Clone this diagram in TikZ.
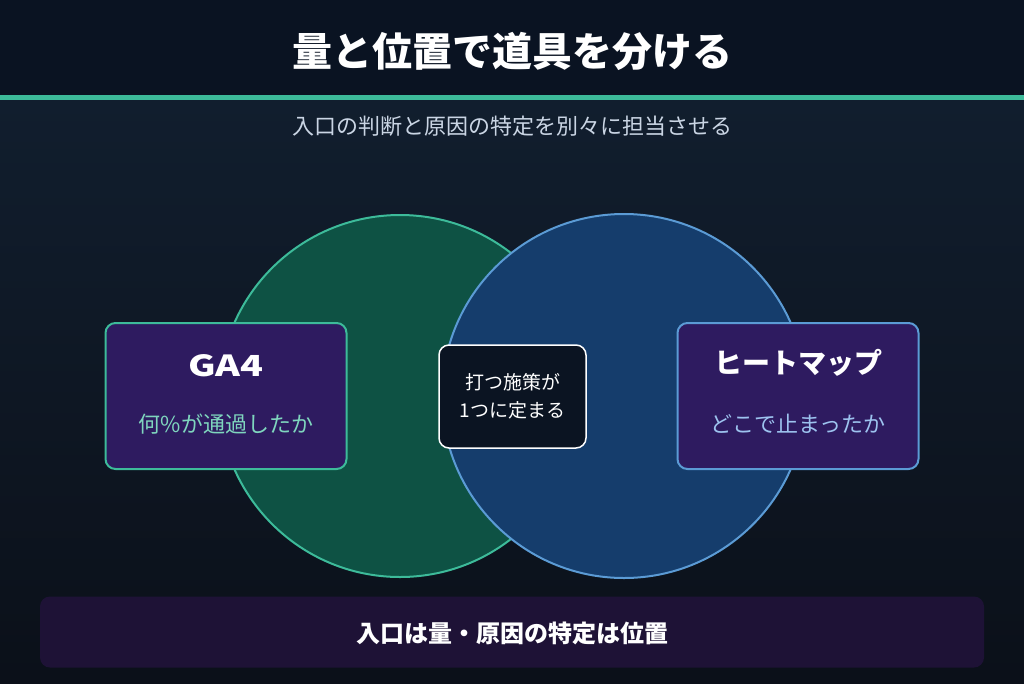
\documentclass[tikz,border=0pt]{standalone}
\usepackage{fontspec}
\setmainfont{Noto Sans CJK JP}
\newfontfamily\jp{Noto Sans CJK JP}
\definecolor{bgtop}{HTML}{0A1322}
\definecolor{bgmid}{HTML}{111E2E}
\definecolor{bgbot}{HTML}{0B1019}
\definecolor{accent}{HTML}{3DBB9A}
\definecolor{gfill}{HTML}{0E5244}
\definecolor{gline}{HTML}{3DBB9A}
\definecolor{bfill}{HTML}{153D6C}
\definecolor{bline}{HTML}{5B9BD5}
\definecolor{boxfill}{HTML}{2E1B60}
\definecolor{cfill}{HTML}{0B1422}
\definecolor{barfill}{HTML}{1E1236}
\definecolor{subtxt}{HTML}{CAD5E4}
\definecolor{gtxt}{HTML}{7FD6BE}
\definecolor{btxt}{HTML}{9DC3EF}
\tikzset{
  sidebox/.style={draw, line width=2pt, rounded corners=10pt, fill=boxfill, minimum width=241pt, minimum height=146pt},
  centerbox/.style={draw=white, line width=1.5pt, rounded corners=10pt, fill=cfill, minimum width=147pt, minimum height=103pt, align=center, text=white, font=\jp\fontsize{19}{28}\selectfont},
  headtxt/.style={text=white, font=\jp\bfseries\fontsize{28}{32}\selectfont},
  subtxtstyle/.style={font=\jp\fontsize{22}{26}\selectfont}
}
\begin{document}
\begin{tikzpicture}[x=1pt,y=-1pt]
\useasboundingbox (0,0) rectangle (1024,683);
\shade[top color=bgmid, bottom color=bgbot] (0,100) rectangle (1024,683);
\fill[bgtop] (0,0) rectangle (1024,96);
\fill[accent] (0,95) rectangle (1024,100);
\node[text=white, font=\jp\bfseries\fontsize{40}{44}\selectfont] (title) at (512,51) {量と位置で道具を分ける};
\node[text=subtxt, font=\jp\fontsize{22}{26}\selectfont] (sub) at (512,126) {入口の判断と原因の特定を別々に担当させる};
\draw[gline, fill=gfill, line width=2pt] (400,396) circle (181);
\draw[bline, fill=bfill, line width=2pt] (624,396) circle (182);
\node[sidebox, draw=gline] (ga) at (226,396) {};
\node[headtxt, font=\jp\bfseries\fontsize{29}{32}\selectfont, xscale=1.3] (gah) at (226,366) {GA4};
\node[subtxtstyle, text=gtxt] (gas) at (226,424) {何\%が通過したか};
\node[sidebox, draw=bline] (hm) at (798,396) {};
\node[headtxt] (hmh) at (798,363) {ヒートマップ};
\node[subtxtstyle, text=btxt] (hms) at (798,424) {どこで止まったか};
\node[centerbox] (c) at (512.5,396.5) {打つ施策が\\1つに定まる};
\node[fill=barfill, rounded corners=10pt, minimum width=944pt, minimum height=71pt] (bar) at (512,632) {};
\node[text=white, font=\jp\bfseries\fontsize{24}{28}\selectfont] (bart) at (512,633) {入口は量・原因の特定は位置};
\end{tikzpicture}
\end{document}
